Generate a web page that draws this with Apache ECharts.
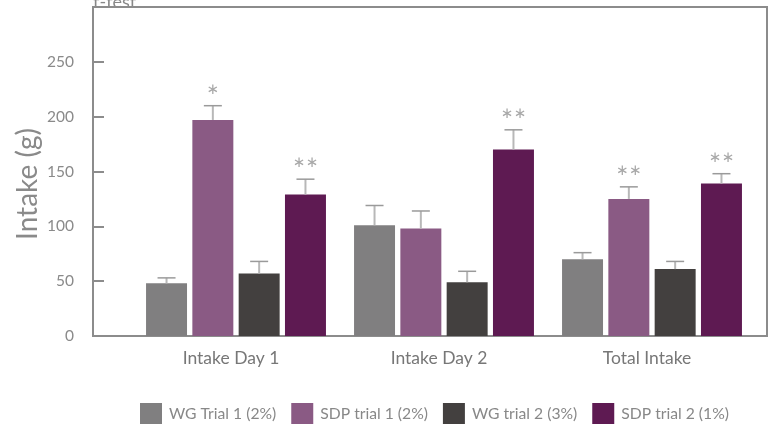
<!DOCTYPE html>
<html><head><meta charset="utf-8">
<script src="https://cdn.jsdelivr.net/npm/echarts@6/dist/echarts.min.js"></script>
<style>html,body{margin:0;padding:0;background:#fff}#c{width:771px;height:424px}</style>
</head><body><div id="c"></div>
<script>
// ---- data ----
const categories = ['Intake Day 1', 'Intake Day 2', 'Total Intake'];
const seriesNames = ['WG Trial 1 (2%)', 'SDP trial 1 (2%)', 'WG trial 2 (3%)', 'SDP trial 2 (1%)'];
const wgTrial1 = [48, 101, 70];
const sdpTrial1 = [197, 98, 125];
const wgTrial2 = [57, 49, 61];
const sdpTrial2 = [129, 170, 139];
const wgTrial1Err = [5, 18, 6];
const sdpTrial1Err = [13, 16, 11];
const wgTrial2Err = [11, 10, 7];
const sdpTrial2Err = [14, 18, 9];
const wgTrial1Sig = [0, 0, 0];
const sdpTrial1Sig = [1, 0, 2];
const wgTrial2Sig = [0, 0, 0];
const sdpTrial2Sig = [2, 2, 2];
const yTicks = [0, 50, 100, 150, 200, 250];

// ---- styling ----
const colors = ['#807f80', '#8a5a84', '#43403f', '#5e1a52'];
const CAT_GAP = 0.135, BAR_GAP = 0.13;
const FONT = 'Lato';

const values = [wgTrial1, sdpTrial1, wgTrial2, sdpTrial2];
const errs = [wgTrial1Err, sdpTrial1Err, wgTrial2Err, sdpTrial2Err];
const sigs = [wgTrial1Sig, sdpTrial1Sig, wgTrial2Sig, sdpTrial2Sig];

const barSeries = values.map((vals, k) => ({
  name: seriesNames[k], type: 'bar', xAxisIndex: 1, yAxisIndex: 1,
  data: vals, itemStyle: { color: colors[k] },
  barCategoryGap: (CAT_GAP * 100) + '%', barGap: (BAR_GAP * 100) + '%'
}));

const errSeries = values.map((vals, k) => ({
  type: 'custom', xAxisIndex: 1, yAxisIndex: 1, silent: true, z: 5,
  data: vals.map((v, i) => [i, v, errs[k][i]]),
  encode: { x: 0, y: 1 },
  renderItem(params, api) {
    const i = api.value(0), v = api.value(1), e = api.value(2);
    const n = sigs[k][params.dataIndex];
    const band = api.size([1, 0])[0];
    const usable = band * (1 - CAT_GAP);
    const w = usable / (4 + 3 * BAR_GAP);
    const base = api.coord([i, v]);
    const cx = base[0] - usable / 2 + k * w * (1 + BAR_GAP) + w / 2;
    const topY = api.coord([i, v + e])[1];
    const children = [
      { type: 'line', shape: { x1: cx, y1: base[1], x2: cx, y2: topY }, style: { stroke: '#b8b8b8', lineWidth: 2 } },
      { type: 'line', shape: { x1: cx - 9, y1: topY, x2: cx + 9, y2: topY }, style: { stroke: '#9a9a9a', lineWidth: 1.5 } }
    ];
    for (let s = 0; s < n; s++) {
      children.push({ type: 'text', x: cx + (s - (n - 1) / 2) * 13, y: topY - 16,
        style: { text: '\u2217', fill: '#a8a8a8', font: '15px "DejaVu Sans"', align: 'center', verticalAlign: 'middle' } });
    }
    return { type: 'group', children };
  }
}));

const chart = echarts.init(document.getElementById('c'), null, { renderer: 'canvas' });
chart.setOption({
  animation: false,
  backgroundColor: '#fff',
  textStyle: { fontFamily: FONT },
  grid: [
    { left: 93, right: 4, top: 7, bottom: 88, show: true, borderColor: '#8c8c8c', borderWidth: 2, backgroundColor: 'transparent' },
    { left: 132, right: 15, top: 7, bottom: 88 }
  ],
  xAxis: [
    { gridIndex: 0, type: 'category', data: [''], show: false },
    { gridIndex: 1, type: 'category', data: categories,
      axisLine: { show: false }, axisTick: { show: false },
      axisLabel: { color: '#777', fontSize: 17.5, margin: 13, fontFamily: FONT, padding: [0, 10, 0, 0] } }
  ],
  yAxis: [
    { gridIndex: 0, type: 'value', min: 0, max: 300, interval: 50,
      axisLine: { show: true, lineStyle: { color: '#8c8c8c', width: 2 } },
      axisTick: { show: true, inside: true, length: 11, lineStyle: { color: '#8c8c8c', width: 2 }, customValues: yTicks },
      axisLabel: { color: '#8a8a8a', fontSize: 15.5, margin: 19, fontFamily: FONT, customValues: yTicks },
      splitLine: { show: false } },
    { gridIndex: 1, type: 'value', min: 0, max: 300, interval: 50, show: false, splitLine: { show: false } }
  ],
  legend: {
    data: seriesNames, left: 140, top: 403, padding: 0, icon: 'rect',
    itemWidth: 22, itemHeight: 21, itemGap: 15,
    textStyle: { color: '#888', fontSize: 15.7, fontFamily: FONT, padding: [0, 0, 0, 2] }
  },
  graphic: [
    { type: 'text', x: 28, y: 184, rotation: Math.PI / 2,
      style: { text: 'Intake (g)', fill: '#8a8a8a', font: '28px Lato', align: 'center', verticalAlign: 'middle' } },
    { type: 'text', x: 93, y: 11, z: -1,
      style: { text: 't-test', fill: '#888', font: '18px Lato', align: 'left', verticalAlign: 'bottom' } }
  ],
  series: barSeries.concat(errSeries)
});
</script></body></html>
